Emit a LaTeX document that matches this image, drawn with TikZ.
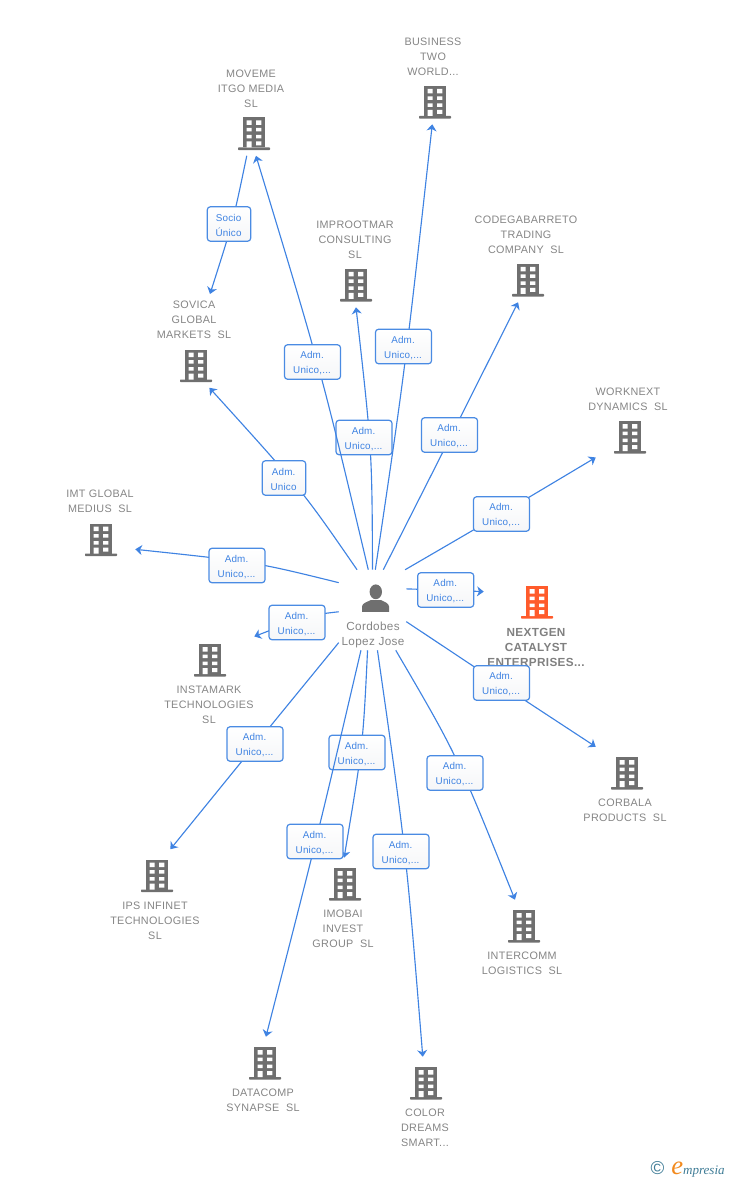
\documentclass[tikz,border=0pt]{standalone}
\usepackage{fontspec}
\setmainfont{Liberation Sans}
\newfontfamily\tracked[LetterSpace=3]{Liberation Sans}
\newfontfamily\reltrack[LetterSpace=2]{Liberation Sans}
\newfontfamily\logofont{Liberation Serif}
\usetikzlibrary{arrows.meta}
\definecolor{linkblue}{HTML}{3F83E2}
\definecolor{boxblue}{HTML}{4A8BE3}
\definecolor{icongray}{HTML}{6F6F6F}
\definecolor{labgray}{HTML}{858585}
\definecolor{hotorange}{HTML}{FF5B2B}
\definecolor{logoteal}{HTML}{3F7C96}
\definecolor{logoorange}{HTML}{F28A1E}
\definecolor{boxtint}{HTML}{F5F6F8}
\tikzset{
  x=0.75pt,y=-0.75pt,
  conn/.style={draw=linkblue,line width=0.85pt,-{Stealth[length=5pt,width=7.5pt,inset=1.5pt]}},
  relbox/.style={draw=boxblue,top color=white,bottom color=boxtint,line width=0.9pt,rounded corners=2.2pt,minimum height=25.8pt,minimum width=#1,inner sep=0pt},
  reltext/.style={inner sep=0pt,align=center,text=linkblue,font=\reltrack\fontsize{7.4}{11.2}\selectfont},
  comp/.style={align=center,text=labgray,inner sep=0pt,font=\tracked\fontsize{8.1}{11.25}\selectfont},
  compbold/.style={comp,text=black!50,font=\tracked\bfseries\fontsize{8.8}{11.25}\selectfont},
  pics/bldg/.style={code={
    \fill[#1] (-11,-16) rectangle (11,14);
    \fill[#1,rounded corners=0.5pt] (-16,14) rectangle (16,16.6);
    \fill[white] (-7.5,-13) rectangle (-2.5,-8.5) (2.2,-13) rectangle (7.4,-8.5)
      (-7.5,-5.5) rectangle (-2.5,-2) (2.2,-5.5) rectangle (7.4,-2)
      (-7.5,1.5) rectangle (-2.5,5) (2.2,1.5) rectangle (7.4,5)
      (-7.5,8) rectangle (-2.5,14) (2.2,8) rectangle (7.4,12);
  }},
}
\newcommand{\company}[6]{% name cx cy W H colour
  \node[inner sep=0pt,minimum width=#4*0.75pt,minimum height=#5*0.75pt] (#1) at (#2,#3) {};
  \pic at (#1.center) {bldg=#6};
}
\newcommand{\relnode}[5]{% name x y width text
  \node[relbox=#4] (#1) at (#2,#3) {};
  \node[reltext] (#1t) at ([xshift=-0.3pt,yshift=-1.1pt]#1.center) {#5};
}
\newcommand{\admtext}{Adm.\ \\Unico,...}
\begin{document}
\begin{tikzpicture}
\useasboundingbox (0,0) rectangle (728,1180);

% company hit areas and icons
\company{business}{435}{102}{68}{44}{icongray}
\company{moveme}{254}{133.5}{68}{44}{icongray}
\company{improot}{356}{285}{68}{44}{icongray}
\company{codega}{528}{280}{68}{44}{icongray}
\company{sovica}{196}{365.5}{68}{44}{icongray}
\company{worknext}{630}{437}{68}{44}{icongray}
\company{imt}{101}{539.5}{68}{44}{icongray}
\company{nextgen}{537}{602}{106}{44}{hotorange}
\company{instamark}{210}{660}{88}{52}{icongray}
\company{corbala}{627}{773}{62}{52}{icongray}
\company{ips}{157}{875.5}{68}{52}{icongray}
\company{imobai}{345}{884}{68}{52}{icongray}
\company{intercomm}{524}{926}{68}{52}{icongray}
\company{datacomp}{265}{1063}{68}{52}{icongray}
\company{colordreams}{426}{1083}{68}{52}{icongray}

% person
\node[inner sep=0pt,minimum width=50.25pt,minimum height=60pt] (person) at (372.5,610) {};
\fill[icongray] (375.8,591.8) ellipse (6.2 and 7.4);
\fill[icongray] (362,611.8) -- (362,606.5) .. controls (362.5,603) and (366,602.5) .. (371,600) -- (381,600)
  .. controls (385.5,602.5) and (388.5,603) .. (389,606.5) -- (389,611.8) -- cycle;

% company names
\node[comp] (tbusiness) at (433,57) {BUSINESS\\TWO\\WORLD...};
\node[comp] (tmoveme) at (251,89) {MOVEME\\ITGO MEDIA\\SL};
\node[comp] (timproot) at (355,240) {IMPROOTMAR\\CONSULTING\\SL};
\node[comp] (tcodega) at (526,235) {CODEGABARRETO\\TRADING\\COMPANY\ \ SL};
\node[comp] (tsovica) at (194,320) {SOVICA\\GLOBAL\\MARKETS\ \ SL};
\node[comp] (tworknext) at (628,399.5) {WORKNEXT\\DYNAMICS\ \ SL};
\node[comp] (timt) at (100,501.5) {IMT GLOBAL\\MEDIUS\ \ SL};
\node[compbold] (tnextgen) at (536,647) {NEXTGEN\\CATALYST\\ENTERPRISES...};
\node[comp] (tinstamark) at (209,705) {INSTAMARK\\TECHNOLOGIES\\SL};
\node[comp] (tcorbala) at (625,810.5) {CORBALA\\PRODUCTS\ \ SL};
\node[comp] (tips) at (155,921) {IPS INFINET\\TECHNOLOGIES\\SL};
\node[comp] (timobai) at (343,929) {IMOBAI\\INVEST\\GROUP\ \ SL};
\node[comp] (tintercomm) at (522,963.5) {INTERCOMM\\LOGISTICS\ \ SL};
\node[comp] (tdatacomp) at (263,1100.5) {DATACOMP\\SYNAPSE\ \ SL};
\node[comp] (tcolor) at (425,1128) {COLOR\\DREAMS\\SMART...};
\node[comp,font=\tracked\fontsize{8.8}{11.25}\selectfont] (tperson) at (373,634.5) {Cordobes\\Lopez Jose};

% connectors and their relation labels, in stacking order
\coordinate (sovicain) at (210,294);
\draw[conn] (moveme.252) .. controls (233,222) .. (sovicain);
\relnode{r1}{229}{224}{32.5pt}{Socio\\Único}
\draw[conn] (person.111) .. controls (302,490) .. (sovica.-59.4);
\relnode{r2}{284}{478}{32.5pt}{Adm.\ \\Unico}
\draw[conn] (person.90.7) .. controls (372,450) .. (improot.-90);
\relnode{r4}{364}{437.5}{42pt}{\admtext}
\draw[conn] (person.96.4) .. controls (321,370) .. (moveme.-85);
\relnode{r3}{312.5}{362}{42pt}{\admtext}
\draw[conn] (person.86.4) .. controls (405,370) .. (business.-97.8);
\relnode{r5}{403.5}{346.5}{42pt}{\admtext}
\draw[conn] (person.75.3) .. controls (449,440) .. (codega.-114.4);
\relnode{r6}{449.5}{435}{42pt}{\admtext}
\draw[conn] (person.51) .. controls (501,514) .. (worknext);
\relnode{r7}{501.5}{514}{42pt}{\admtext}
\draw[conn] (person.141) .. controls (255,562) .. (imt.-16);
\relnode{r8}{237}{565.5}{42pt}{\admtext}
\draw[conn] (person.32) .. controls (445,590) .. (nextgen.169.3);
\relnode{r9}{445.7}{590}{42pt}{\admtext}
\draw[conn] (person.183.4) .. controls (310,615) .. (instamark.28.6);
\relnode{r10}{297}{622.5}{42pt}{\admtext}
\draw[conn] (person.-19.7) .. controls (500,684) .. (corbala.140);
\relnode{r11}{501.5}{683}{42pt}{\admtext}
\draw[conn] (person.224.6) .. controls (255,745) .. (ips.63.9);
\relnode{r12}{255}{744}{42pt}{\admtext}
\draw[conn] (person.263.6) .. controls (363,745) .. (imobai.92);
\relnode{r13}{357}{752.5}{42pt}{\admtext}
\draw[conn] (person.254) .. controls (319,830) .. (datacomp.88);
\relnode{r14}{315}{841.5}{42pt}{\admtext}
\draw[conn] (person.277.8) .. controls (406,850) .. (colordreams.97);
\relnode{r15}{401}{851.5}{42pt}{\admtext}
\draw[conn] (person.300.4) .. controls (457,755) .. (intercomm.109);
\relnode{r16}{455}{773}{42pt}{\admtext}

% logo
\node[text=logoteal,inner sep=0pt,font=\fontsize{14}{14}\selectfont] (copyr) at (657.5,1168.5) {©};
\node[anchor=base west,inner sep=0pt,text=logoteal,font=\logofont\itshape\fontsize{9.8}{10.5}\selectfont] (brand) at (671,1174)
  {\textcolor{logoorange}{\fontsize{20}{20}\selectfont e}mpresia};
\end{tikzpicture}
\end{document}
